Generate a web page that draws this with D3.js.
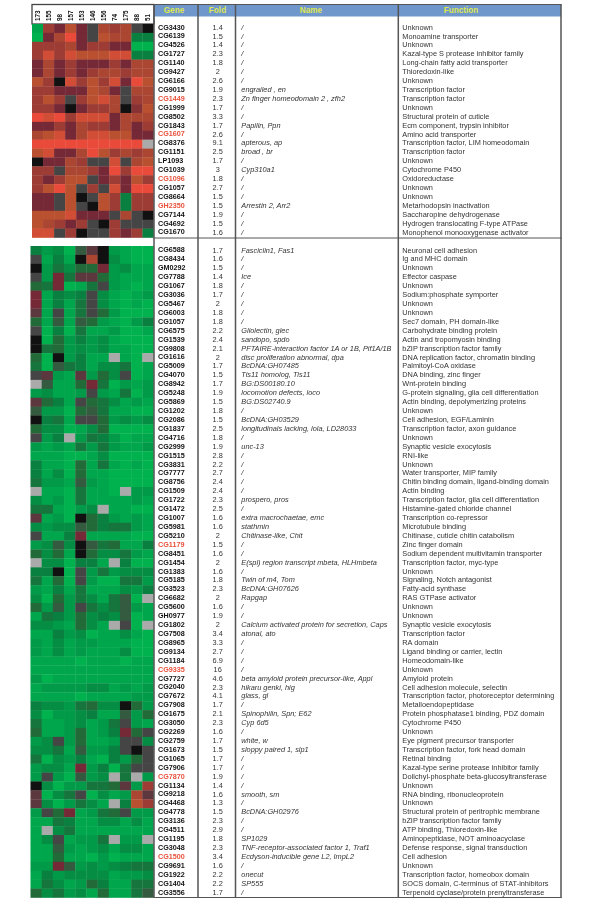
<!DOCTYPE html>
<meta charset="utf-8">
<head>
    <title>Expression heatmap table</title>
    <script src="https://cdn.jsdelivr.net/npm/d3@7/dist/d3.min.js"></script>
</head>

<style>
    body { margin: 0; background: white; }
    svg { display: block; font-family: "Liberation Sans", Arial, sans-serif; filter: blur(0.3px); }
    text { font-size: 7.35px; fill: #333; }
    .gene { font-size: 7.2px; font-weight: bold; fill: #111; }
    .gene.hit { fill: #e8503a; }
    .name { font-style: italic; }
    .head { font-size: 8.2px; font-weight: bold; fill: #dfe84e; text-anchor: middle; }
    .sample { font-size: 6.4px; font-weight: bold; fill: #111; }
    line { stroke: #555; stroke-width: 1.5; }
</style>

<svg></svg>

<script>
    // Values. Heat cells: tenths on a green(-) / black(0) / red(+) scale
    var _ = null;
    var samples = ["173", "155", "98", "157", "153", "146", "156", "74", "175", "88", "51"];
    var headers = ["Gene", "Fold", "Name", "Function"];
    var redGenes = ["CG1449", "CG1607", "CG1096", "GH2350", "CG1179", "CG9335", "CG7870", "CG1500"];

    var upGenes = ["CG3430", "CG6139", "CG4526", "CG1727", "CG1140", "CG9427", "CG6166", "CG9015", "CG1449", "CG1999", "CG8502", "CG1843",
        "CG1607", "CG8376", "CG1151", "LP1093", "CG1039", "CG1096", "CG1057", "CG8664", "GH2350", "CG7144", "CG4692", "CG1670"];
    var upFold = [1.4, 1.5, 1.4, 2.3, 1.8, 2, 2.6, 1.9, 2.3, 1.7, 3.3, 1.7, 2.6, 9.1, 2.5, 1.7, 3, 1.8, 2.7, 1.5, 1.5, 1.9, 1.5, 1.6];
    var upNames = ["/", "/", "/", "/", "/", "/", "/", "engrailed , en", "Zn finger homeodomain 2 , zfh2", "/", "/", "Papilin, Ppn",
        "/", "apterous, ap", "broad , br", "/", "Cyp310a1", "/", "/", "/", "Arrestin 2, Arr2", "/", "/", "/"];
    var upFuncs = ["Unknown", "Monoamine transporter", "Unknown", "Kazal-type S protease inhibitor family", "Long-chain fatty acid transporter",
        "Thioredoxin-like", "Unknown", "Transcription factor", "Transcription factor", "Unknown", "Structural protein of cuticle",
        "Ecm component, trypsin inhibitor", "Amino acid transporter", "Transcription factor, LIM homeodomain", "Transcription factor", "Unknown",
        "Cytochrome P450", "Oxidoreductase", "Unknown", "Unknown", "Metarhodopsin inactivation", "Saccharopine dehydrogenase",
        "Hydrogen translocating F-type ATPase", "Monophenol monooxygenase activator"];
    var upHeat = [
        [-8, 5, 3, 7, 3, 1, 6, 5, 6, 1, 0],
        [-9, 3, 6, 9, 3, 1, 7, 6, 6, -5, -5],
        [5, 5, 5, 6, 3, 5, 5, 3, 3, -9, -9],
        [5, 8, 5, 8, 7, 7, 7, 8, 8, -5, -5],
        [3, 6, 3, 5, 3, 3, 3, 5, 3, 6, 6],
        [3, 6, 3, 5, 3, 5, 6, 6, 5, 6, 6],
        [7, 5, 0, 8, 5, 7, 5, 8, 3, 9, 7],
        [5, 5, 3, 3, 3, 7, 6, 3, 1, 6, 6],
        [5, 7, 5, 1, 5, 7, 8, 6, 1, 5, 6],
        [5, 5, 3, 0, 3, 5, 5, 6, 0, 4, 7],
        [9, 8, 9, 5, 8, 8, 8, 3, 6, 6, 6],
        [3, 3, 5, 3, 6, 5, 5, 3, 6, 3, 5],
        [6, 7, 8, 3, 6, 8, 8, 7, 7, 3, 3],
        [9, 9, 9, 9, 9, 9, 9, 9, 9, 9, _],
        [7, 8, 3, 3, 6, 9, 7, 5, 6, 5, 6],
        [0, 3, 3, 6, 5, 1, 1, 8, 1, 6, 7],
        [5, 5, 1, 6, 6, 5, 3, 9, 5, 9, 9],
        [5, 3, 5, 7, 7, 1, 3, 5, 3, 7, 5],
        [5, 7, 9, 7, 1, 5, 1, 8, 3, 9, 9],
        [3, 3, 1, 7, 0, 1, 7, 5, -5, 5, 5],
        [3, 3, 1, 7, 1, 0, 7, 5, -5, 5, 5],
        [7, 7, 7, 8, 3, 3, 3, 1, 6, 1, 0],
        [7, 6, 5, 3, 5, 1, 0, 5, 1, 1, 1],
        [8, 8, 1, 5, 0, 1, 1, 5, 3, 5, -5]
    ];

    var downGenes = ["CG6588", "CG8434", "GM0292", "CG7788", "CG1067", "CG3036", "CG5467", "CG6003", "CG1057", "CG6575", "CG1539", "CG9808",
        "CG1616", "CG5009", "CG4070", "CG8942", "CG5248", "CG5869", "CG1202", "CG2086", "CG1837", "CG4716", "CG2999", "CG1515", "CG3831",
        "CG7777", "CG8756", "CG1509", "CG1722", "CG1472", "CG1007", "CG5981", "CG5210", "CG1179", "CG8451", "CG1454", "CG1383", "CG5185",
        "CG3523", "CG6682", "CG5600", "GH0977", "CG1802", "CG7508", "CG8965", "CG9134", "CG1184", "CG9335", "CG7727", "CG2040", "CG7672",
        "CG7908", "CG1675", "CG3050", "CG2269", "CG2759", "CG1673", "CG1065", "CG7906", "CG7870", "CG1134", "CG9218", "CG4468", "CG4778",
        "CG3136", "CG4511", "CG1195", "CG3048", "CG1500", "CG9691", "CG1922", "CG1404", "CG3556"];
    var downFold = [1.7, 1.6, 1.5, 1.4, 1.8, 1.7, 2, 1.8, 1.8, 2.2, 2.4, 2.1, 2, 1.7, 1.5, 1.7, 1.9, 1.5, 1.8, 1.5, 2.5, 1.8, 1.9, 2.8, 2.2,
        2.7, 2.4, 2.4, 2.3, 2.5, 1.6, 1.6, 2, 1.5, 1.6, 2, 1.6, 1.8, 2.3, 2, 1.6, 1.9, 2, 3.4, 3.3, 2.7, 6.9, 16, 4.6, 2.3,
        4.1, 1.7, 2.1, 2.3, 1.6, 1.7, 1.5, 1.7, 1.7, 1.9, 1.4, 1.6, 1.3, 1.5, 2.3, 2.9, 1.8, 2.3, 3.4, 1.6, 2.2, 2.2, 1.7];
    var downNames = ["Fasciclin1, Fas1", "/", "/", "Ice", "/", "/", "/", "/", "/", "Gliolectin, glec", "sandopo, spdo",
        "PFTAIRE-interaction factor 1A or 1B, Pif1A/1B", "disc proliferation abnormal, dpa", "BcDNA:GH07485", "Tis11 homolog, Tis11",
        "BG:DS00180.10", "locomotion defects, loco", "BG:DS02740.9", "/", "BcDNA:GH03529", "longitudinals lacking, lola, LD28033", "/",
        "unc-13", "/", "/",
        "/", "/", "/", "prospero, pros", "/", "extra macrochaetae, emc", "stathmin", "Chitinase-like, Chit", "/", "/",
        "E(spl) region transcript mbeta, HLHmbeta", "/", "Twin of m4, Tom", "BcDNA:GH07626", "Rapgap", "/", "/",
        "Calcium activated protein for secretion, Caps", "atonal, ato", "/", "/", "/", "/", "beta amyloid protein precursor-like, Appl", "hikaru genki, hig",
        "glass, gl", "/", "Spinophilin, Spn; E62", "Cyp 6d5", "/", "white, w", "sloppy paired 1, slp1", "/", "/", "/", "/", "smooth, sm", "/",
        "BcDNA:GH02976", "/", "/", "SP1029", "TNF-receptor-associated factor 1, Traf1", "Ecdyson-inducible gene L2, ImpL2", "/", "onecut", "SP555", "/"];
    var downFuncs = ["Neuronal cell adhesion", "Ig and MHC domain", "Unknown", "Effector caspase", "Unknown", "Sodium:phosphate symporter", "Unknown",
        "Unknown", "Sec7 domain, PH domain-like", "Carbohydrate binding protein", "Actin and tropomyosin binding", "bZIP transcription factor family",
        "DNA replication factor, chromatin binding", "Palmitoyl-CoA oxidase", "DNA binding, zinc finger", "Wnt-protein binding",
        "G-protein signaling, glia cell differentiation", "Actin binding, depolymerizing proteins", "Unknown", "Cell adhesion, EGF/Laminin",
        "Transcription factor, axon guidance", "Unknown", "Synaptic vesicle exocytosis", "RNI-like", "Unknown",
        "Water transporter, MIP family", "Chitin binding domain, ligand-binding domain", "Actin binding", "Transcription factor, glia cell differentiation",
        "Histamine-gated chloride channel", "Transcription co-repressor", "Microtubule binding", "Chitinase, cuticle chitin catabolism", "Zinc finger domain",
        "Sodium dependent multivitamin transporter", "Transcription factor, myc-type", "Unknown", "Signaling, Notch antagonist", "Fatty-acid synthase",
        "RAS GTPase activator", "Unknown", "Unknown", "Synaptic vesicle exocytosis", "Transcription factor", "RA domain", "Ligand binding or carrier, lectin",
        "Homeodomain-like", "Unknown", "Amyloid protein", "Cell adhesion molecule, selectin",
        "Transcription factor, photoreceptor determining", "Metalloendopeptidase", "Protein phosphatase1 binding, PDZ domain", "Cytochrome P450", "Unknown",
        "Eye pigment precursor transporter", "Transcription factor, fork head domain", "Retinal binding", "Kazal-type serine protease inhibitor family",
        "Dolichyl-phosphate beta-glucosyltransferase", "Unknown", "RNA binding, ribonucleoprotein", "Unknown", "Structural protein of peritrophic membrane",
        "bZIP transcription factor family", "ATP binding, Thioredoxin-like", "Aminopeptidase, NOT aminoacyclase", "Defense response, signal transduction",
        "Cell adhesion", "Unknown", "Transcription factor, homeobox domain", "SOCS domain, C-terminus of STAT-inhibitors", "Terpenoid cyclase/protein prenyltransferase"];
    var downHeat = [
        [-5, -7, -6, -9, -2, 2, 0, -7, -8, -9, -9],
        [1, -8, -5, -8, 0, 6, 0, -6, -8, -9, -9],
        [0, -7, -4, -6, -3, -3, 3, -7, -6, -8, -8],
        [1, -7, 3, -4, 2, 2, -3, -7, -8, -8, -8],
        [-3, -4, 3, -9, -8, -4, 1, -7, -8, -9, -8],
        [3, -8, -5, -6, -5, 1, -6, -8, -9, -8, -7],
        [3, -8, -5, -8, -4, 1, -6, -8, -9, -8, -9],
        [2, -8, 1, -8, -4, 1, -3, -7, -9, -9, -9],
        [-3, -8, -2, -8, -2, -3, -7, -8, -9, -7, -5],
        [1, -9, -5, -9, -4, -8, -8, -7, -9, -9, -8],
        [0, -9, -3, -7, -5, -7, -6, -8, -9, -9, -9],
        [0, -4, -3, -7, -6, -7, -6, -8, -8, -9, -9],
        [-3, -9, 0, -7, -5, -8, -8, _, -8, -9, _],
        [-4, -9, -2, -4, -5, -8, -6, -6, -4, -9, -8],
        [1, 2, -7, -8, 2, -7, -3, -6, 1, -9, -8],
        [_, -2, -8, -8, -3, 3, -4, -9, -7, -8, -7],
        [-7, -6, -8, -8, -7, 1, -7, -8, -4, -9, -7],
        [2, -3, -5, -8, 1, -3, -4, -6, -8, -7, -8],
        [-2, -7, -7, -9, -3, -2, -4, -8, -8, -9, -9],
        [0, -5, -4, -8, 1, 1, -3, -7, -6, -7, -6],
        [-3, -6, -6, -9, -8, -6, -3, -9, -9, -9, -9],
        [1, -7, -5, _, -7, -4, -5, -7, -9, -8, -8],
        [-7, -8, -7, -8, -4, -7, -4, -7, -8, -8, -7],
        [-8, -8, -8, -9, -9, -8, -6, -9, -9, -9, -9],
        [-5, -8, -8, -9, -3, -8, -4, -8, -9, -8, -9],
        [-5, -8, -6, -9, -3, -8, -8, -9, -9, -9, -9],
        [-4, -7, -7, -8, -2, -7, -8, -9, -9, -9, -9],
        [_, -8, -8, -9, -4, -8, -8, -9, _, -7, -7],
        [-6, -8, -7, -9, -4, -8, -8, -8, -8, -7, -8],
        [-4, -4, -8, -9, -7, -6, _, -8, -8, -9, -9],
        [2, -8, -7, -9, 0, -3, -5, -7, -8, -7, -8],
        [-6, -7, -6, -6, -2, -3, -5, -4, -4, -7, -8],
        [1, -8, -8, -5, 3, -8, -8, -8, -8, -9, -9],
        [-7, -6, -2, -6, 0, -2, -4, -3, -8, -8, -5],
        [-3, -6, -3, -8, 0, -3, -6, -6, -4, -7, -8],
        [_, -6, -6, -9, -5, -5, -8, _, -5, -9, -9],
        [-5, -5, 0, -9, 1, -7, -4, -7, -6, -6, -6],
        [-4, -8, -3, -9, 1, -7, -9, -9, -4, -4, -7],
        [-7, -8, -5, -8, -4, -8, -8, -8, -6, -7, -5],
        [-6, -9, -3, -7, -4, -6, -8, -4, -2, -9, _],
        [-3, -7, -2, -7, 1, -4, -6, -4, -2, -7, -8],
        [-8, -4, -5, -7, -3, -6, -5, -6, -2, -9, -8],
        [-6, -6, -7, -8, -3, -6, -8, _, 1, -9, _],
        [-8, -8, -5, -7, -6, -9, -8, -8, -6, -8, -9],
        [-7, -8, -6, -8, -7, -7, -8, -8, -8, -9, -9],
        [-7, -8, -6, -8, -7, -8, -8, -8, -6, -9, -9],
        [-8, -8, -8, -8, -9, -8, -8, -8, -9, -8, -8],
        [-8, -8, -8, -8, -8, -8, -8, -8, -8, -8, -8],
        [-7, -9, -8, -8, -8, -8, -8, -8, -8, -8, -8],
        [-8, -7, -7, -7, -7, -6, -6, -8, -7, -8, -7],
        [-8, -8, -8, -8, -9, -8, -8, -8, -8, -7, -7],
        [-5, -6, -6, -7, -4, -3, -6, -6, 0, -3, -7],
        [-6, -9, -7, -7, -6, -5, -8, -8, -2, -7, -3],
        [-4, -8, -8, -7, -6, -8, -7, -4, 1, -7, -8],
        [-3, -8, -8, -7, -3, -8, -7, -5, 3, -3, 1],
        [-7, -6, 1, -7, -3, -8, -8, -7, 1, 1, -6],
        [-6, -6, -4, -8, -2, -7, -7, -5, 1, 0, 1],
        [-4, -9, -6, -7, -5, -8, -9, -5, -7, -3, 1],
        [-7, -6, -6, -8, 3, -7, -5, -9, -4, 1, 1],
        [-7, 1, -7, -9, -2, -7, -6, _, -4, _, -7],
        [0, -6, -9, -7, -7, -4, -4, -3, 2, -7, 5],
        [2, -9, -6, -4, 1, -9, -6, -8, -7, 6, 2],
        [2, -6, -9, -7, -4, -6, -8, _, -5, 7, 5],
        [-7, 1, -3, 3, -8, -7, -4, -3, 1, -7, -7],
        [-8, -8, -4, -5, -8, -8, -6, -6, -8, -6, -8],
        [-8, _, -6, -4, -8, -8, -8, -8, -8, -8, -8],
        [-8, -6, 1, -8, -7, -7, -4, _, -7, -7, _],
        [-8, -8, -2, -7, -8, -7, -6, -8, -6, -6, -8],
        [-8, -8, -3, -8, -8, -9, -7, -9, -8, -8, -8],
        [-7, -7, 3, -2, -7, -6, -7, -6, -5, -4, -4],
        [-8, -5, -7, -6, -6, -6, -6, -8, -7, -7, -6],
        [-8, -4, -6, -8, -7, -3, -5, -8, -8, -4, -4],
        [-3, -6, -4, -7, -6, -8, -3, -8, -8, -4, -2]
    ];

    var vWidth = 600;
    var vHeight = 917;

    var svg = d3.select('svg')
        .attr('width', vWidth)
        .attr('height', vHeight);

    var color = d3.scaleLinear()
        .domain([-9, -7, -5, -3, -1, 0, 1, 3, 5, 7, 9])
        .range(["#00b24e", "#009a48", "#0a8040", "#226a38", "#454a46", "#111111", "#454545", "#752836", "#9c3c34", "#b9502f", "#ea4a3a"]);

    // one block = heat cells on the left plus the four text columns
    function drawBlock(genes, fold, names, funcs, heat, xRange, yRange, textRange) {
        var x = d3.scaleBand().domain(d3.range(samples.length)).range(xRange);
        var y = d3.scaleBand().domain(d3.range(genes.length)).range(yRange);
        var yText = d3.scaleBand().domain(d3.range(genes.length)).range(textRange);

        var rows = svg.append('g').selectAll('g').data(heat).enter().append('g');
        rows.selectAll('rect')
            .data(function (d, i) { return d.map(function (v, j) { return {v: v, i: i, j: j}; }); })
            .enter().append('rect')
            .attr('x', function (d) { return x(d.j); })
            .attr('y', function (d) { return y(d.i); })
            .attr('width', x.bandwidth() + 0.3)
            .attr('height', y.bandwidth() + 0.3)
            .attr('fill', function (d) { return d.v === null ? "#aaaaaa" : color(d.v); });

        function column(values, xPos, anchor, cls) {
            svg.append('g').selectAll('text').data(values).enter().append('text')
                .attr('class', cls)
                .attr('x', xPos)
                .attr('y', function (d, i) { return yText(i) + yText.bandwidth() / 2; })
                .attr('dy', '0.35em')
                .attr('text-anchor', anchor)
                .text(function (d) { return d; });
        }
        svg.append('g').selectAll('text').data(genes).enter().append('text')
            .attr('class', function (d) { return redGenes.indexOf(d) >= 0 ? 'gene hit' : 'gene'; })
            .attr('x', 158)
            .attr('y', function (d, i) { return yText(i) + yText.bandwidth() / 2; })
            .attr('dy', '0.35em')
            .text(function (d) { return d; });
        column(fold, 217.7, 'middle', 'fold');
        column(names, 241.3, 'start', 'name');
        column(funcs, 402.3, 'start', 'func');
    }

    // header band and sample box
    svg.append('rect').attr('x', 154).attr('y', 4.5).attr('width', 407).attr('height', 12).attr('fill', '#6f97cc');
    svg.append('rect').attr('x', 32).attr('y', 4.5).attr('width', 122).attr('height', 19.5)
        .attr('fill', 'white').attr('stroke', '#444').attr('stroke-width', 1.3);

    var xHead = d3.scaleOrdinal().domain(headers).range([174, 217.5, 311, 461]);
    svg.append('g').selectAll('text').data(headers).enter().append('text')
        .attr('class', 'head')
        .attr('x', function (d) { return xHead(d); })
        .attr('y', 13.2)
        .text(function (d) { return d; });

    var xSample = d3.scaleBand().domain(samples).range([32, 153.5]);
    svg.append('g').selectAll('text').data(samples).enter().append('text')
        .attr('class', 'sample')
        .attr('transform', function (d) { return 'translate(' + (xSample(d) + xSample.bandwidth() / 2 + 2.2) + ',21) rotate(-90)'; })
        .text(function (d) { return d; });

    drawBlock(upGenes, upFold, upNames, upFuncs, upHeat, [32, 153.5], [24, 237.5], [22.6, 236.4]);
    drawBlock(downGenes, downFold, downNames, downFuncs, downHeat, [30.5, 153.5], [246, 897.5], [245.5, 896.5]);

    // table rules
    var vRules = [154, 198, 235.5, 398.3, 561];
    svg.append('g').selectAll('line').data(vRules).enter().append('line')
        .attr('x1', function (d) { return d; }).attr('x2', function (d) { return d; })
        .attr('y1', 4).attr('y2', 898);
    var hRules = [4.5, 238, 897.5];
    svg.append('g').selectAll('line').data(hRules).enter().append('line')
        .attr('x1', 154).attr('x2', 561.5)
        .attr('y1', function (d) { return d; }).attr('y2', function (d) { return d; })
        .style('stroke-width', 1);
</script>
